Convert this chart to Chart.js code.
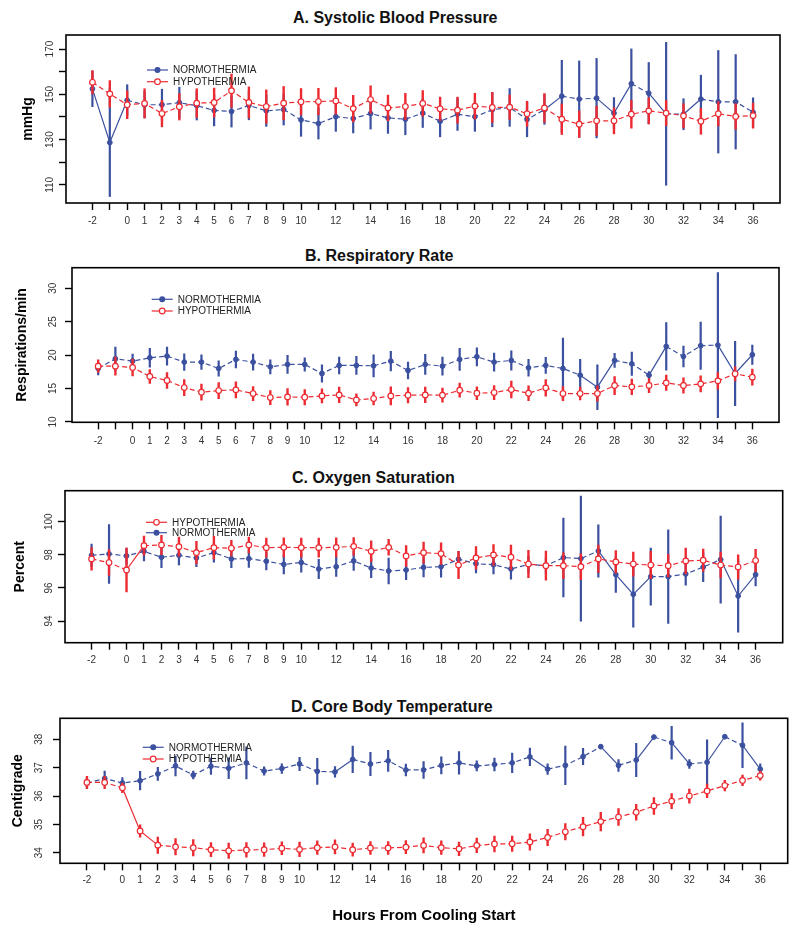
<!DOCTYPE html>
<html>
<head>
<meta charset="utf-8">
<script src="https://cdn.jsdelivr.net/npm/chart.js@4.4.0/dist/chart.umd.min.js"></script>
<style>
  body { margin: 0; background: #fff; }
  #wrap { position: relative; width: 800px; height: 936px; font-family: "Liberation Sans", Arial, sans-serif; }
  canvas { position: absolute; left: 0; }
  .ttl { position: absolute; font-weight: bold; font-size: 16px; line-height: 16px; white-space: nowrap; color: #111; }
</style>
</head>
<body>
<div id="wrap">
  <div class="ttl" style="left:293px;top:10px">A. Systolic Blood Pressure</div>
  <div class="ttl" style="left:305px;top:248px">B. Respiratory Rate</div>
  <div class="ttl" style="left:292px;top:470px">C. Oxygen Saturation</div>
  <div class="ttl" style="left:291px;top:699px">D. Core Body Temperature</div>
  <canvas id="cA" width="800" height="240" style="top:0px"></canvas>
  <canvas id="cB" width="800" height="220" style="top:240px"></canvas>
  <canvas id="cC" width="800" height="230" style="top:460px"></canvas>
  <canvas id="cD" width="800" height="246" style="top:690px"></canvas>
</div>
<script>
// hours relative to cooling start
const hours = [-2, -1, 0, 1, 2, 3, 4, 5, 6, 7, 8, 9, 10, 11, 12, 13, 14, 15, 16, 17, 18,
  19, 20, 21, 22, 23, 24, 25, 26, 27, 28, 29, 30, 31, 32, 33, 34, 35, 36];
const xLabels = [-2, 0, 1, 2, 3, 4, 5, 6, 7, 8, 9, 10, 12, 14, 16, 18, 20, 22, 24, 26, 28, 30, 32, 34, 36];

// A. systolic blood pressure (mmHg)
const sbpNormo = [152.4, 128.7, 147.4, 145.4, 145.4, 146.3, 145.0, 142.9, 142.4, 145.1, 142.7, 143.3, 138.7,
  137.1, 140.1, 139.3, 141.5, 139.6, 139.0, 141.7, 138.1, 141.2, 140.1, 143.2, 144.2, 138.9, 143.2,
  149.2, 147.9, 148.3, 141.7, 154.7, 150.5, 141.4, 141.2, 147.9, 146.7, 146.7, 142.1];
const sbpNormoErr = [8, 24, 7, 6, 7, 7, 6.5, 7, 7, 6.5, 7, 7, 7.4, 7, 6.6, 6.5, 7, 7, 7, 6.5, 7, 7.3, 6.6,
  7.7, 8.5, 7.8, 6.6, 16, 17, 17.7, 7, 15.5, 13.7, 31.7, 7, 10.7, 22.8, 21, 6.5];
const sbpHypo = [155.3, 150.2, 145.4, 146.0, 141.5, 144.5, 146.1, 146.4, 151.6, 146.4, 144.6, 146.1, 146.7,
  146.8, 147.1, 143.7, 147.7, 144.0, 144.6, 146.0, 143.6, 143.0, 144.8, 144.2, 144.3, 141.4, 144.0,
  139.0, 136.8, 138.3, 138.3, 141.2, 142.7, 141.7, 140.5, 138.1, 141.4, 140.2, 140.6];
const sbpHypoErr = [5.3, 6, 6.3, 6.6, 6, 6, 6.5, 6.5, 7.5, 7, 7.5, 7.5, 6, 6, 6, 6, 6.2, 5.8, 6, 5.8, 5.3,
  5.9, 5.8, 6.8, 5.5, 5.7, 6.5, 6.9, 6, 6.6, 5.9, 6.3, 5.9, 5.7, 5.5, 5.9, 5.5, 5.8, 5.7];

// B. respiratory rate (respirations/min)
const rrNormo = [18.0, 19.45, 19.1, 19.6, 19.85, 18.95, 18.95, 18.0, 19.35, 18.95, 18.25, 18.6, 18.6, 17.25,
  18.45, 18.45, 18.4, 19.1, 17.7, 18.6, 18.35, 19.35, 19.75, 18.95, 19.2, 18.1, 18.45, 18.0, 17.0,
  15.2, 19.2, 18.7, 17.0, 21.3, 19.8, 21.4, 21.5, 17.25, 20.05];
const rrNormoErr = [1, 1.8, 1.1, 1.45, 1.4, 1.3, 1.15, 1.2, 1.3, 1.25, 1.1, 1.4, 1.05, 1.35, 1.3, 1.4, 1.7,
  1.5, 1.3, 1.55, 1.4, 1.7, 1.4, 1.4, 1.5, 1.3, 1.25, 4.6, 2.4, 3.4, 1.1, 1.8, 0.6, 3.6, 1.6, 3.6,
  10.9, 4.85, 1.5];
const rrHypo = [18.35, 18.35, 18.15, 16.8, 16.2, 15.15, 14.45, 14.7, 14.8, 14.25, 13.65, 13.75, 13.7, 13.9,
  14.05, 13.3, 13.5, 13.9, 14.0, 14.05, 14.0, 14.75, 14.3, 14.4, 14.85, 14.3, 15.1, 14.25, 14.25,
  14.25, 15.45, 15.25, 15.45, 15.85, 15.45, 15.7, 16.15, 17.2, 16.7];
const rrHypoErr = [1, 1.4, 1.3, 1.1, 1.25, 1.25, 1.25, 1.25, 1.25, 1.1, 1.1, 1.3, 1.2, 1.1, 1.2, 0.95, 1.0,
  1.4, 1.2, 1.2, 1.1, 1.1, 1.0, 1.1, 1.3, 1.15, 1.3, 1.1, 1.0, 1.2, 1.4, 1.2, 1.1, 1.2, 1.2, 1.25,
  1.3, 1.1, 1.25];

// C. oxygen saturation (percent)
const spoNormo = [97.97, 98.05, 97.93, 98.21, 97.85, 97.97, 97.81, 98.13, 97.75, 97.77, 97.61, 97.42, 97.53,
  97.14, 97.28, 97.63, 97.2, 97.02, 97.08, 97.24, 97.28, 97.73, 97.46, 97.4, 97.14, 97.42, 97.34,
  97.83, 97.77, 98.23, 96.8, 95.61, 96.68, 96.68, 96.84, 97.26, 97.71, 95.51, 96.8];
const spoNormoErr = [0.7, 1.8, 0.5, 0.6, 0.65, 0.6, 0.55, 0.6, 0.55, 0.55, 0.55, 0.6, 0.6, 0.6, 0.6, 0.6,
  0.6, 0.8, 0.6, 0.6, 0.65, 0.5, 0.57, 0.57, 0.63, 0.5, 0.5, 2.4, 3.8, 1.6, 1.1, 2.0, 1.75, 2.85,
  0.7, 0.9, 2.65, 2.2, 0.7];
const spoHypo = [97.75, 97.53, 97.08, 98.55, 98.59, 98.49, 98.13, 98.43, 98.39, 98.59, 98.43, 98.45, 98.43,
  98.43, 98.45, 98.51, 98.21, 98.45, 97.93, 98.13, 98.07, 97.38, 97.81, 97.99, 97.85, 97.44, 97.34,
  97.34, 97.28, 97.75, 97.57, 97.44, 97.38, 97.34, 97.63, 97.67, 97.38, 97.26, 97.65];
const spoHypoErr = [0.7, 0.8, 1.35, 0.6, 0.6, 0.6, 0.7, 0.7, 0.5, 0.5, 0.6, 0.6, 0.6, 0.6, 0.6, 0.55, 0.65,
  0.5, 0.65, 0.65, 0.67, 0.85, 0.7, 0.65, 0.75, 0.85, 0.9, 0.8, 0.8, 0.85, 0.7, 0.75, 0.85, 0.7,
  0.8, 0.7, 0.8, 0.75, 0.7];

// D. core body temperature (centigrade)
const tempNormo = [36.45, 36.62, 36.46, 36.54, 36.78, 37.06, 36.74, 37.05, 36.98, 37.17, 36.88, 36.97, 37.13,
  36.87, 36.85, 37.29, 37.13, 37.24, 36.92, 36.92, 37.08, 37.17, 37.06, 37.11, 37.17, 37.38, 36.95,
  37.08, 37.39, 37.74, 37.08, 37.27, 38.08, 37.88, 37.13, 37.19, 38.09, 37.79, 36.95];
const tempNormoErr = [0.19, 0.27, 0.2, 0.34, 0.24, 0.36, 0.15, 0.3, 0.38, 0.58, 0.16, 0.18, 0.25, 0.47, 0.2,
  0.48, 0.42, 0.38, 0.22, 0.31, 0.31, 0.41, 0.19, 0.24, 0.36, 0.32, 0.2, 0.69, 0.3, 0.08, 0.22, 0.6,
  0.04, 0.59, 0.17, 0.8, 0.04, 0.8, 0.2];
const tempHypo = [36.48, 36.48, 36.29, 34.77, 34.27, 34.21, 34.18, 34.11, 34.07, 34.1, 34.11, 34.16, 34.12,
  34.18, 34.21, 34.11, 34.17, 34.17, 34.2, 34.26, 34.18, 34.14, 34.26, 34.31, 34.32, 34.38, 34.54,
  34.74, 34.92, 35.1, 35.26, 35.43, 35.65, 35.82, 36.0, 36.18, 36.37, 36.55, 36.72];
const tempHypoErr = [0.23, 0.23, 0.18, 0.23, 0.3, 0.3, 0.3, 0.26, 0.28, 0.27, 0.25, 0.24, 0.27, 0.25, 0.26,
  0.24, 0.24, 0.24, 0.24, 0.28, 0.25, 0.25, 0.27, 0.29, 0.28, 0.3, 0.3, 0.3, 0.34, 0.34, 0.31, 0.29,
  0.31, 0.28, 0.26, 0.25, 0.2, 0.2, 0.17];

// y axis ticks
const sbpTicks = [110, 120, 130, 140, 150, 160, 170];
const sbpTickLabels = [110, 130, 150, 170];
const rrTicks = [10, 15, 20, 25, 30];
const spoTicks = [94, 96, 98, 100];
const tempTicks = [34, 35, 36, 37, 38];

const BLUE = '#3b509f';
const RED = '#ec2a31';
const FONT = '"Liberation Sans", Arial, sans-serif';

function points(mean) {
  return hours.map((h, i) => ({ x: h, y: mean[i] }));
}
function errBars(mean, err) {
  return hours.map((h, i) => ({ x: h, y: [mean[i] - err[i], mean[i] + err[i]] }));
}

// steep segments come out solid in the original, flat ones dashed
const dashed = ctx => Math.abs(ctx.p1.y - ctx.p0.y) > 12 ? [] : [5, 3];

const framePlugin = {
  id: 'frame',
  afterDraw(chart) {
    const { ctx, chartArea: a } = chart;
    ctx.save();
    ctx.strokeStyle = '#000';
    ctx.lineWidth = 1.6;
    ctx.strokeRect(a.left, a.top, a.right - a.left, a.bottom - a.top);
    ctx.restore();
  }
};

function keyPlugin(key) {
  return {
    id: 'key',
    afterDraw(chart) {
      const { ctx, chartArea: a } = chart;
      key.items.forEach((it, k) => {
        const x = a.left + key.dx;
        const y = a.top + key.dy + k * key.gap;
        ctx.save();
        ctx.strokeStyle = it.color;
        ctx.lineWidth = 1.2;
        ctx.beginPath();
        ctx.moveTo(x, y);
        ctx.lineTo(x + 21, y);
        ctx.stroke();
        ctx.beginPath();
        ctx.arc(x + 10.5, y, it.open ? 2.8 : 2.4, 0, Math.PI * 2);
        ctx.fillStyle = it.open ? '#fff' : it.color;
        ctx.fill();
        ctx.stroke();
        ctx.fillStyle = '#222';
        ctx.font = '10px ' + FONT;
        ctx.textBaseline = 'middle';
        ctx.fillText(it.label, x + 26, y + 0.5);
        ctx.restore();
      });
    }
  };
}

const NORMO_KEY = { label: 'NORMOTHERMIA', color: BLUE, open: false };
const HYPO_KEY = { label: 'HYPOTHERMIA', color: RED, open: true };

function panel(id, p) {
  const tickGrid = { drawOnChartArea: false, drawTicks: true, tickLength: 7, tickWidth: 1.4, tickColor: '#000', offset: false };
  new Chart(document.getElementById(id), {
    type: 'bar',
    data: {
      datasets: [
        {
          type: 'line', data: points(p.hypo), borderColor: RED, borderWidth: 1.2,
          segment: { borderDash: dashed }, pointRadius: 2.8, pointBackgroundColor: '#fff',
          pointBorderColor: RED, pointBorderWidth: 1.2, order: 0
        },
        {
          type: 'bar', data: errBars(p.hypo, p.hypoErr), backgroundColor: RED,
          barThickness: 2.4, inflateAmount: 0, grouped: false, order: 1
        },
        {
          type: 'line', data: points(p.normo), borderColor: BLUE, borderWidth: 1.2,
          segment: { borderDash: dashed }, pointRadius: 2.4, pointBackgroundColor: BLUE,
          pointBorderColor: BLUE, pointBorderWidth: 1, order: 2
        },
        {
          type: 'bar', data: errBars(p.normo, p.normoErr), backgroundColor: BLUE,
          barThickness: 2.2, inflateAmount: 0, grouped: false, order: 3
        }
      ]
    },
    options: {
      responsive: false,
      animation: false,
      devicePixelRatio: 1,
      layout: { padding: { top: p.padTop, left: p.padLeft, right: p.padRight, bottom: 0 } },
      plugins: { legend: { display: false }, tooltip: { enabled: false } },
      scales: {
        x: {
          type: 'linear', min: -3.52, max: 37.55, offset: false,
          afterBuildTicks: s => { s.ticks = hours.map(v => ({ value: v })); },
          afterFit: s => { s.height = p.xH; },
          grid: tickGrid,
          border: { display: false },
          ticks: {
            autoSkip: false, maxRotation: 0, padding: p.xPad, color: '#333',
            font: { size: 10, family: FONT },
            callback: v => xLabels.includes(v) ? String(v) : ''
          },
          title: p.xTitle
            ? { display: true, text: p.xTitle, color: '#000', font: { size: 15, weight: 'bold', family: FONT }, padding: { top: 0, bottom: 11.3 } }
            : { display: false }
        },
        y: {
          min: p.yMin, max: p.yMax,
          afterBuildTicks: s => { s.ticks = p.yTicks.map(v => ({ value: v })); },
          afterFit: s => { s.width = p.yW; },
          grid: tickGrid,
          border: { display: false },
          ticks: {
            minRotation: 90, maxRotation: 90, crossAlign: 'center', padding: p.yPad, color: '#333',
            font: { size: 10, family: FONT },
            callback: v => p.yLabels.includes(v) ? String(v) : ''
          },
          title: { display: true, text: p.yTitle, color: '#000', font: { size: 14, weight: 'bold', family: FONT }, padding: 0 }
        }
      }
    },
    plugins: [framePlugin, keyPlugin(p.key)]
  });
}

panel('cA', {
  normo: sbpNormo, normoErr: sbpNormoErr, hypo: sbpHypo, hypoErr: sbpHypoErr,
  yMin: 102, yMax: 176.2, yTicks: sbpTicks, yLabels: sbpTickLabels, yTitle: 'mmHg',
  padTop: 35, padLeft: 19.6, padRight: 20, yW: 46.4, xH: 37, xPad: 5, yPad: 0.7,
  key: { dx: 81, dy: 35, gap: 11.7, items: [NORMO_KEY, HYPO_KEY] }
});
panel('cB', {
  normo: rrNormo, normoErr: rrNormoErr, hypo: rrHypo, hypoErr: rrHypoErr,
  yMin: 9.95, yMax: 33.07, yTicks: rrTicks, yLabels: rrTicks, yTitle: 'Respirations/min',
  padTop: 27.7, padLeft: 13.3, padRight: 21, yW: 58.7, xH: 37.7, xPad: 6.4, yPad: 6.1,
  key: { dx: 79.7, dy: 31.6, gap: 11.7, items: [NORMO_KEY, HYPO_KEY] }
});
panel('cC', {
  normo: spoNormo, normoErr: spoNormoErr, hypo: spoHypo, hypoErr: spoHypoErr,
  yMin: 92.69, yMax: 101.87, yTicks: spoTicks, yLabels: spoTicks, yTitle: 'Percent',
  padTop: 30.7, padLeft: 11.3, padRight: 17.3, yW: 53.7, xH: 47.3, xPad: 4.3, yPad: 0.9,
  key: { dx: 81, dy: 31.6, gap: 10.4, items: [HYPO_KEY, NORMO_KEY] }
});
panel('cD', {
  normo: tempNormo, normoErr: tempNormoErr, hypo: tempHypo, hypoErr: tempHypoErr,
  yMin: 33.63, yMax: 38.74, yTicks: tempTicks, yLabels: tempTicks, yTitle: 'Centigrade',
  padTop: 28.3, padLeft: 9.9, padRight: 12.3, yW: 50.1, xH: 72.7, xPad: 3.7, yPad: 8.6,
  xTitle: 'Hours From Cooling Start',
  key: { dx: 82.7, dy: 29, gap: 11.7, items: [NORMO_KEY, HYPO_KEY] }
});
</script>
</body>
</html>
